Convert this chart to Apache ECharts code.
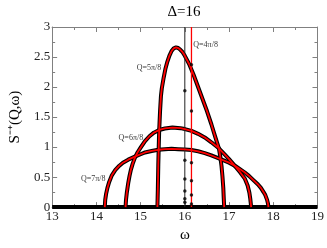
<!DOCTYPE html>
<html><head><meta charset="utf-8">
<script src="https://cdn.jsdelivr.net/npm/echarts@6/dist/echarts.min.js"></script>
<style>html,body{margin:0;padding:0;background:#fff}#c{width:327px;height:248px}</style>
</head><body><div id="c"></div>
<script>
// omega axis range
var xMin = 13, xMax = 19;
// Q=5π/8 curve [ω, S]
var q5 = [[15.38,0],[15.39,0.3],[15.40,0.7],[15.41,1.0],[15.42,1.27],[15.44,1.6],[15.46,1.85],[15.48,1.98],[15.52,2.15],[15.56,2.3],[15.60,2.41],[15.65,2.52],[15.70,2.6],[15.75,2.645],[15.80,2.66],[15.85,2.65],[15.90,2.62],[15.95,2.58],[16.00,2.52],[16.10,2.38],[16.20,2.2],[16.30,2.0],[16.40,1.8],[16.50,1.6],[16.60,1.38],[16.70,1.14],[16.77,0.98],[16.80,0.85],[16.83,0.68],[16.85,0.52],[16.87,0.32],[16.88,0.15],[16.89,0]];
// Q=6π/8 curve
var q6 = [[14.66,0],[14.67,0.12],[14.69,0.25],[14.72,0.4],[14.75,0.52],[14.78,0.62],[14.82,0.72],[14.87,0.82],[14.93,0.91],[15.00,0.99],[15.10,1.1],[15.20,1.18],[15.30,1.24],[15.42,1.285],[15.55,1.31],[15.72,1.325],[15.90,1.315],[16.00,1.30],[16.15,1.27],[16.30,1.22],[16.45,1.16],[16.60,1.08],[16.77,0.98],[16.90,0.88],[17.00,0.8],[17.15,0.67],[17.25,0.58],[17.36,0.47],[17.42,0.36],[17.46,0.24],[17.48,0.14],[17.49,0.07],[17.50,0]];
// Q=7π/8 curve
var q7 = [[14.19,0],[14.20,0.12],[14.22,0.22],[14.25,0.32],[14.29,0.42],[14.35,0.53],[14.43,0.62],[14.52,0.69],[14.60,0.74],[14.72,0.79],[14.87,0.84],[15.00,0.88],[15.10,0.91],[15.25,0.935],[15.40,0.955],[15.55,0.965],[15.70,0.97],[15.85,0.965],[16.00,0.96],[16.15,0.95],[16.30,0.93],[16.45,0.9],[16.60,0.86],[16.77,0.81],[17.00,0.74],[17.15,0.68],[17.35,0.58],[17.45,0.52],[17.55,0.45],[17.65,0.38],[17.72,0.32],[17.78,0.25],[17.82,0.2],[17.86,0.12],[17.88,0.06],[17.89,0]];
// Q=4π/8 delta-like peaks (vertical lines)
var q4Red = [[16.15,0],[16.15,3]];
var q4Black = [[16.0,0],[16.0,3]];
var q4RedDots = [[16.15,2.37],[16.15,1.6],[16.15,0.74],[16.15,0.44],[16.15,0.2],[16.15,0.05]];
var q4BlackDots = [[16.0,1.94],[16.0,0.78],[16.0,0.47],[16.0,0.27],[16.0,0.14],[16.0,0.08]];
// baseline (S=0 over the whole ω range)
var baseline = [[13,0],[19,0]];
// labels [ω, S, text]
var labels = [[16.47,2.71,'Q=4π/8'],[15.19,2.32,'Q=5π/8'],[14.78,1.16,'Q=6π/8'],[13.93,0.47,'Q=7π/8']];

var serif = 'Liberation Serif';
var chart = echarts.init(document.getElementById('c'));
var axisCol = '#808080';
function xa(pos, lab){ return {type:'value', position:pos, min:xMin, max:xMax, interval:1,
  axisLine:{show:true, onZero:false, lineStyle:{color:axisCol,width:1}},
  axisTick:{show:true, inside:true, length:5, lineStyle:{color:axisCol}},
  minorTick:{show:true, splitNumber:2, length:3, lineStyle:{color:axisCol}},
  splitLine:{show:false}, axisLabel:{show:lab, color:'#222', fontFamily:serif, fontSize:13, margin:3},
  name: lab ? 'ω' : '', nameLocation:'middle', nameGap:16, nameTextStyle:{fontFamily:serif, fontSize:15, color:'#000'}}; }
function ya(pos, lab){ return {type:'value', position:pos, min:0, max:3, interval:0.5,
  axisLine:{show:true, onZero:false, lineStyle:{color:axisCol,width:1}},
  axisTick:{show:true, inside:true, length:5, lineStyle:{color:axisCol}},
  minorTick:{show:true, splitNumber:2, length:3, lineStyle:{color:axisCol}},
  splitLine:{show:false}, axisLabel:{show:lab, color:'#222', fontFamily:serif, fontSize:13, margin:2,
    formatter:function(v){return String(v);}},
  name: lab ? 'S⁻⁺(Q,ω)' : '', nameLocation:'middle', nameGap:22, nameTextStyle:{fontFamily:serif, fontSize:15, color:'#000'}}; }

var series = [];
series.push({type:'line', data:baseline, symbol:'none', lineStyle:{color:'#000', width:4}, z:2, animation:false});
[q7,q6,q5].forEach(function(d){
  series.push({type:'line', data:d, symbol:'none', lineStyle:{color:'#000', width:4, join:'round'}, z:2, animation:false});
});
series.push({type:'line', data:q4Black, symbol:'none', lineStyle:{color:'#222', width:1}, z:2, animation:false});
series.push({type:'line', data:q4Red, symbol:'none', lineStyle:{color:'#f00', width:1.3}, z:3, animation:false});
[q7,q6,q5].forEach(function(d){
  series.push({type:'line', data:d, symbol:'none', lineStyle:{color:'#f00', width:1.8, join:'round'}, z:4, animation:false});
});
series.push({type:'scatter', data:q4RedDots.concat(q4BlackDots), symbol:'circle', symbolSize:3.5, itemStyle:{color:'#000'}, z:5, animation:false});
series.push({type:'scatter', data:labels.map(function(l){return [l[0],l[1]];}), symbolSize:0, z:6, animation:false,
  label:{show:true, position:'inside', fontFamily:serif, fontSize:8, color:'#000',
    formatter:function(p){return labels[p.dataIndex][2];}}});

chart.setOption({
  animation:false,
  textStyle:{fontFamily:serif},
  title:{text:'Δ=16', left:179, top:0, textAlign:'center', textStyle:{fontFamily:serif, fontSize:15, fontWeight:'normal', color:'#000'}},
  grid:{left:36, right:6, top:27, bottom:22},
  xAxis:[xa('bottom',true), xa('top',false)],
  yAxis:[ya('left',true), ya('right',false)],
  series:series
});
</script></body></html>
